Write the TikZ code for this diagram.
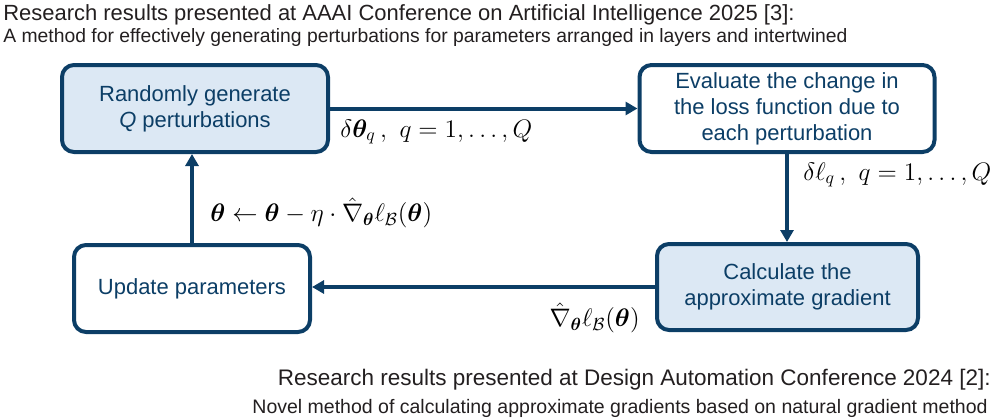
\documentclass[tikz,border=0pt]{standalone}
\usepackage{amsmath}
\usepackage{bm}
\usepackage{fontspec}
\newfontfamily\arialfont{Liberation Sans}
\usetikzlibrary{arrows.meta}
\definecolor{navy}{RGB}{12,62,102}
\definecolor{boxblue}{RGB}{220,232,244}
\definecolor{inkgray}{RGB}{35,31,32}
\begin{document}
\begin{tikzpicture}[
    stepbox/.style = {rectangle,
        draw = navy,
        line width = 0.08cm,
        rounded corners = 0.24cm,
        text = navy,
        align = center,
        font = \arialfont\fontsize{12.5}{14.8}\selectfont,
        minimum height = 1.74cm},
    flow/.style = {draw = navy,
        line width = 0.08cm,
        -{Triangle[width=0.26cm, length=0.24cm]}},
    mathlabel/.style = {inner sep = 0pt,
        font = \fontsize{14.6}{17}\selectfont},
    headline/.style = {inner sep = 0pt, text = inkgray},
    subline/.style = {inner sep = 0pt, text = inkgray}]
\useasboundingbox (0,0) rectangle (20,8.36);

% titles
\node[headline, anchor = base west,
    font = \arialfont\fontsize{12.5}{15}\selectfont] (topconf) at (0.06, 7.96)
    {Research results presented at AAAI Conference on Artificial Intelligence 2025 [3]:};
\node[subline, anchor = base west,
    font = \arialfont\fontsize{11}{13}\selectfont] (topnote) at (0.06, 7.52)
    {A method for effectively generating perturbations for parameters arranged in layers and intertwined};
\node[headline, anchor = base east,
    font = \arialfont\fontsize{12.8}{15}\selectfont] (botconf) at (19.82, 0.66)
    {Research results presented at Design Automation Conference 2024 [2]:};
\node[subline, anchor = base east,
    font = \arialfont\fontsize{11.1}{13}\selectfont] (botnote) at (19.76, 0.1)
    {Novel method of calculating approximate gradients based on natural gradient method};

% the four steps
\node[stepbox,
    fill = boxblue,
    minimum width = 5.32cm] (gen) at (3.9, 6.19)
    {Randomly generate\\\textit{Q} perturbations};

\node[stepbox,
    fill = white,
    minimum width = 5.9cm] (eval) at (15.74, 6.19)
    {Evaluate the change in\\the loss function due to\\each perturbation};

\node[stepbox,
    fill = boxblue,
    minimum width = 5.22cm,
    minimum height = 1.72cm] (grad) at (15.75, 2.62)
    {Calculate the\\approximate gradient};

\node[stepbox,
    fill = white,
    minimum width = 4.72cm] (upd) at (3.84, 2.59)
    {Update parameters};

% connectors
\draw[flow] (gen.east) -- (gen.east -| eval.west);
\draw[flow] (eval.south) -- (eval.south |- grad.north);
\draw[flow] (grad.west) -- (grad.west -| upd.east);
\draw[flow] (upd.north) -- (upd.north |- gen.south);

% labels
\node[mathlabel, anchor = west] (pert) at (6.8, 5.72)
    {$\delta\bm{\theta}_q\,,\ q=1,\ldots,Q$};
\node[mathlabel, anchor = west] (dloss) at (16.06, 4.86)
    {$\delta\ell_q\,,\ q=1,\ldots,Q$};
\node[mathlabel, anchor = west] (rule) at (4.2, 4.1)
    {$\bm{\theta}\leftarrow\bm{\theta}-\eta\cdot\hat{\nabla}_{\bm{\theta}}\ell_{\mathcal{B}}(\bm{\theta})$};
\node[mathlabel, anchor = east] (gvec) at (12.8, 2.0)
    {$\hat{\nabla}_{\bm{\theta}}\ell_{\mathcal{B}}(\bm{\theta})$};
\end{tikzpicture}
\end{document}
